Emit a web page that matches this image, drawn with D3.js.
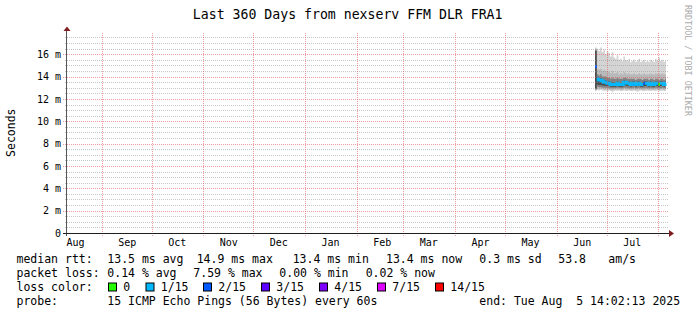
<!DOCTYPE html>
<html>
<head>
<meta charset="utf-8">
<script src="https://cdn.jsdelivr.net/npm/d3@7"></script>
<style>
  body { margin: 0; background: #fff; }
  svg text { font-family: "DejaVu Sans Mono", monospace; fill: #000; }
</style>
</head>
<body>
<svg id="chart" width="697" height="315"></svg>
<script>
// values in ms, one per day starting 2025-06-24
var firstDay = new Date(2025, 5, 24);
var endTime = new Date(2025, 7, 5, 14, 2, 13);

var median = [14.9, 13.8, 13.7, 13.7, 13.6, 13.5, 13.5, 13.4, 13.4, 13.3, 13.3, 13.3, 13.3, 13.4, 13.3, 13.3, 13.3, 13.5, 13.5, 13.4, 13.4, 13.3,
  13.4, 13.4, 13.3, 13.4, 13.4, 13.3, 13.3, 13.4, 13.4, 13.4, 13.3, 13.4, 13.3, 13.3, 13.4, 13.4, 13.3, 13.4, 13.4, 13.3, 13.4];
// loss bin per day (index into lossLabels)
var lossBin = [2, 1, 1, 1, 1, 1, 1, 1, 1, 1, 1, 1, 1, 1, 1, 1, 1, 1, 1, 1, 1, 1,
  1, 1, 1, 1, 1, 1, 1, 2, 1, 1, 1, 1, 1, 1, 1, 1, 0, 1, 1, 1, 1];

// smoke: sorted ping levels (ping1 lowest ... ping15 highest)
var ping15 = [16.6, 16.5, 16.3, 16.6, 16.2, 16.4, 16.0, 16.3, 16.1, 15.8, 16.2, 15.7, 15.6, 15.9, 15.5, 15.6, 15.4, 15.8, 15.5, 15.4, 15.6, 15.3,
  15.4, 15.5, 15.3, 15.4, 15.6, 15.3, 15.4, 15.5, 15.3, 15.4, 15.3, 15.5, 15.4, 15.3, 15.6, 15.4, 15.7, 15.4, 15.5, 15.3, 15.4];
var ping14 = [16.5, 14.7, 14.6, 14.7, 14.5, 14.6, 14.5, 14.5, 14.4, 14.3, 14.5, 14.3, 14.3, 14.4, 14.2, 14.3, 14.2, 14.4, 14.3, 14.2, 14.3, 14.2,
  14.2, 14.3, 14.2, 14.2, 14.3, 14.2, 14.2, 14.3, 14.2, 14.2, 14.2, 14.3, 14.2, 14.2, 14.3, 14.2, 14.3, 14.2, 14.3, 14.2, 14.2];
var ping12 = [16.4, 14.2, 14.1, 14.2, 14.0, 14.0, 14.0, 13.9, 13.9, 13.8, 13.9, 13.8, 13.8, 13.9, 13.8, 13.8, 13.8, 13.9, 13.9, 13.8, 13.8, 13.8,
  13.8, 13.8, 13.7, 13.8, 13.8, 13.8, 13.7, 13.8, 13.8, 13.8, 13.7, 13.8, 13.8, 13.7, 13.8, 13.8, 13.7, 13.8, 13.8, 13.7, 13.8];
var ping10 = [16.3, 13.95, 13.85, 13.85, 13.75, 13.7, 13.65, 13.6, 13.55, 13.5, 13.5, 13.45, 13.45, 13.55, 13.45, 13.45, 13.45, 13.65, 13.6, 13.55, 13.55, 13.45,
  13.55, 13.55, 13.45, 13.55, 13.55, 13.45, 13.45, 13.55, 13.55, 13.55, 13.45, 13.55, 13.45, 13.45, 13.55, 13.55, 13.45, 13.55, 13.55, 13.45, 13.55];
var ping6 = [12.9, 13.3, 13.25, 13.25, 13.2, 13.2, 13.15, 13.15, 13.15, 13.1, 13.1, 13.1, 13.1, 13.15, 13.1, 13.1, 13.1, 13.2, 13.2, 13.15, 13.15, 13.1,
  13.15, 13.15, 13.1, 13.15, 13.15, 13.1, 13.1, 13.15, 13.15, 13.15, 13.1, 13.15, 13.1, 13.1, 13.15, 13.15, 13.1, 13.15, 13.15, 13.1, 13.15];
var ping4 = [12.85, 13.1, 13.05, 13.05, 13.0, 13.0, 13.0, 13.0, 12.95, 12.95, 12.95, 12.95, 12.95, 13.0, 12.95, 12.95, 12.95, 13.0, 13.0, 12.95, 12.95, 12.95,
  12.95, 13.0, 12.95, 12.95, 13.0, 12.95, 12.95, 12.95, 13.0, 12.95, 12.95, 12.95, 12.95, 12.95, 13.0, 12.95, 12.95, 12.95, 13.0, 12.95, 12.95];
var ping2 = [12.8, 12.95, 12.9, 12.9, 12.9, 12.85, 12.85, 12.85, 12.85, 12.8, 12.8, 12.85, 12.85, 12.85, 12.85, 12.8, 12.8, 12.9, 12.85, 12.85, 12.85, 12.8,
  12.85, 12.85, 12.8, 12.85, 12.85, 12.85, 12.8, 12.85, 12.85, 12.85, 12.8, 12.85, 12.8, 12.85, 12.85, 12.85, 12.8, 12.85, 12.85, 12.8, 12.85];
var ping1 = [12.7, 12.8, 12.75, 12.8, 12.75, 12.7, 12.75, 12.7, 12.75, 12.7, 12.6, 12.7, 12.75, 12.7, 12.75, 12.7, 12.7, 12.75, 12.7, 12.7, 12.75, 12.7,
  12.7, 12.75, 12.7, 12.65, 12.7, 12.75, 12.7, 12.7, 12.7, 12.75, 12.7, 12.7, 12.75, 12.7, 12.7, 12.75, 12.7, 12.7, 12.75, 12.7, 12.7];

var yTicks = [0, 2, 4, 6, 8, 10, 12, 14, 16];
var lossLabels = ["0", "1/15", "2/15", "3/15", "4/15", "7/15", "14/15"];
var lossColors = ["#26ff00", "#00b8ff", "#0059ff", "#5e00ff", "#7e00ff", "#dd00ff", "#ff0000"];

var title = "Last 360 Days from nexserv FFM DLR FRA1";
var rttLegend = ["13.5 ms avg", "14.9 ms max", "13.4 ms min", "13.4 ms now", "0.3 ms sd", "53.8", "am/s"];
var lossLegend = ["0.14 % avg", "7.59 % max", "0.00 % min", "0.02 % now"];
var probeLegend = ["15 ICMP Echo Pings (56 Bytes) every 60s", "end: Tue Aug  5 14:02:13 2025"];

const svg = d3.select("#chart");
const plotLeft = 66, plotRight = 666, plotBottom = 233, plotTop = 33;

var startTime = new Date(endTime.getTime() - 360 * 864e5);
var x = d3.scaleTime().domain([startTime, endTime]).range([plotLeft, plotRight]);
var y = d3.scaleLinear().domain([0, 17.9]).range([plotBottom, plotTop]);

var days = median.map((m, i) => d3.timeDay.offset(firstDay, i));
function withEnd(vals) {
  var pts = vals.map((v, i) => ({ t: days[i], v: v }));
  pts.push({ t: endTime, v: vals[vals.length - 1] });
  return pts;
}

// smoke bands, light outer to dark inner
var bands = [[ping1, ping15, "#d4d4d4"], [ping2, ping14, "#b9b9b9"], [ping4, ping12, "#838383"], [ping6, ping10, "#4d4d4d"]];
bands.forEach(function (b) {
  var lo = withEnd(b[0]), hi = withEnd(b[1]);
  var area = d3.area()
    .x(d => x(d.t))
    .y0((d, i) => y(lo[i].v))
    .y1((d, i) => y(hi[i].v))
    .curve(d3.curveStepAfter);
  svg.append("path").attr("d", area(lo)).attr("fill", b[2]);
});

// median, coloured by loss; runs of the same colour are joined
var runs = [];
median.forEach(function (m, i) {
  var last = runs[runs.length - 1];
  if (!last || last.bin !== lossBin[i]) { last = { bin: lossBin[i], pts: [] }; runs.push(last); }
  last.pts.push({ t: days[i], v: m });
});
runs.forEach(function (r, k) {
  var next = k + 1 < runs.length ? runs[k + 1].pts[0].t : endTime;
  var pts = r.pts.concat([{ t: next, v: r.pts[r.pts.length - 1].v }]);
  var line = d3.line().x(d => x(d.t)).y(d => y(d.v)).curve(d3.curveStepAfter);
  svg.append("path").attr("d", line(pts)).attr("fill", "none")
    .attr("stroke", lossColors[r.bin]).attr("stroke-width", 3);
});

// grid
var px = v => Math.round(v) + 0.5;
for (var v = 0.5; v < 17.9; v += 0.5) {
  if (v % 2 === 0) continue;
  svg.append("line").attr("x1", 65).attr("x2", 668).attr("y1", px(y(v))).attr("y2", px(y(v)))
    .attr("stroke", "#8f8f8f").attr("stroke-opacity", 0.5).attr("stroke-dasharray", "1,1");
}
yTicks.slice(1).forEach(function (v) {
  svg.append("line").attr("x1", 63).attr("x2", 668).attr("y1", px(y(v))).attr("y2", px(y(v)))
    .attr("stroke", "#de4f4f").attr("stroke-opacity", 0.55).attr("stroke-dasharray", "1,1");
});
d3.timeMonth.range(startTime, endTime).forEach(function (t) {
  svg.append("line").attr("x1", px(x(t))).attr("x2", px(x(t))).attr("y1", plotTop).attr("y2", 236)
    .attr("stroke", "#de4f4f").attr("stroke-opacity", 0.55).attr("stroke-dasharray", "1,1");
});

// axes
var labelTimes = d3.timeMonth.range(d3.timeMonth.floor(startTime), endTime)
  .map(t => d3.timeDay.offset(t, 15)).filter(t => t <= endTime);
var gx = svg.append("g").attr("transform", "translate(0," + plotBottom + ")")
  .call(d3.axisBottom(x).tickValues(labelTimes).tickFormat(d3.timeFormat("%b")).tickSize(0).tickPadding(6));
var gy = svg.append("g").attr("transform", "translate(67,0)")
  .call(d3.axisLeft(y).tickValues(yTicks).tickFormat(v => v === 0 ? "0" : v + " m").tickSize(0).tickPadding(6));
[gx, gy].forEach(function (g) {
  g.select(".domain").remove();
  g.attr("font-family", null).attr("font-size", null).attr("fill", null);
  g.selectAll("text").attr("font-size", "10px").attr("fill", "#000");
});

svg.append("line").attr("x1", 66.5).attr("x2", 66.5).attr("y1", 236).attr("y2", 30)
  .attr("stroke", "#555");
svg.append("line").attr("x1", 63).attr("x2", 670).attr("y1", 233.5).attr("y2", 233.5)
  .attr("stroke", "#1f1f1f");
svg.append("path").attr("d", "M67,26.5L63.5,31L70.5,31Z").attr("fill", "#801f1f");
svg.append("path").attr("d", "M674,233.5L669,230L669,237Z").attr("fill", "#801f1f");

// texts
svg.append("text").attr("x", 347.7).attr("y", 18.5).attr("text-anchor", "middle")
  .attr("font-size", "13.2px").text(title);
svg.append("text").attr("transform", "translate(15,132.7) rotate(-90)").attr("text-anchor", "middle")
  .attr("font-size", "11.5px").text("Seconds");
svg.append("text").attr("transform", "translate(685,5) rotate(90)").attr("font-size", "8.4px")
  .style("fill", "#aaa").text("RRDTOOL / TOBI OETIKER");

function legendText(tx, ty, s) {
  svg.append("text").attr("x", tx).attr("y", ty).attr("font-size", "11.5px")
    .style("white-space", "pre").text(s);
}
var rowY = [262.5, 276.7, 290.8, 305];
legendText(16.5, rowY[0], "median rtt:");
[107.3, 196.7, 292.7, 386, 479.3, 558.3, 608.3].forEach((lx, i) => legendText(lx, rowY[0], rttLegend[i]));
legendText(16.5, rowY[1], "packet loss:");
[107.3, 193.3, 279.3, 365.7].forEach((lx, i) => legendText(lx, rowY[1], lossLegend[i]));
legendText(16.5, rowY[2], "loss color:");
[108.5, 146, 203.5, 261.5, 319.5, 377.5, 435.5].forEach(function (bx, i) {
  svg.append("rect").attr("x", bx).attr("y", 283).attr("width", 8).attr("height", 8)
    .attr("fill", lossColors[i]).attr("stroke", "#000");
  legendText(bx + 14.8, rowY[2], lossLabels[i]);
});
legendText(16.5, rowY[3], "probe:");
[107.3, 479.3].forEach((lx, i) => legendText(lx, rowY[3], probeLegend[i]));
</script>
</body>
</html>
